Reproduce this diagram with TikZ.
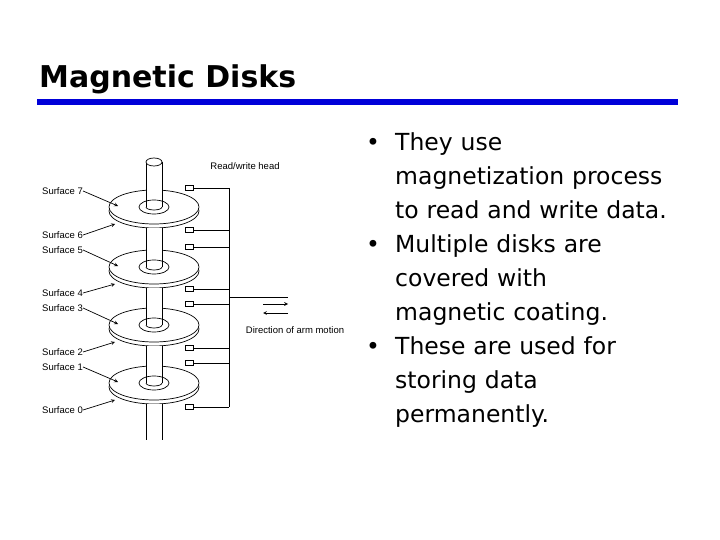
\documentclass[tikz,border=0pt]{standalone}
\usepackage{fontspec}
\setmainfont{DejaVu Sans}
\newfontfamily\figfont{Liberation Sans}
\usetikzlibrary{positioning, arrows}
\begin{document}
\begin{tikzpicture}[x=1pt, y=-1pt,
		disk/.style = {draw, fill=white, line width=0.7pt},
		head/.style = {rectangle, draw, fill=white, inner sep=0pt, minimum width=8pt, minimum height=5pt, line width=0.6pt},
		surflabel/.style = {font=\figfont\fontsize{9.5}{9.5}\selectfont, inner sep=0pt, anchor=west},
		line/.style = {draw, line width=0.7pt},
		bullettext/.style = {font=\fontsize{23.5}{34}\selectfont, text width=330pt, align=left, anchor=north west, inner sep=0pt},
	]
	\useasboundingbox (0,0) rectangle (720,540);

	% Title
	\node [font=\bfseries\fontsize{30}{30}\selectfont, anchor=base west, inner sep=0pt] (title) at (39,88) {Magnetic Disks};
	\fill [blue!85!black] (37,99) rectangle (678,105);

	% Spindle
	\draw [line, fill=white] (146,162) -- (146,440);
	\draw [line] (162,162) -- (162,440);
	\draw [line, fill=white] (154,162) ellipse (8 and 4);

	% Disks
	\foreach \y in {207,267,325,383} {
		\draw [disk] (154,\y+4) ellipse (45pt and 17pt);
		\draw [disk] (154,\y) ellipse (45pt and 17pt);
		\fill [white] (146.4,\y-20) rectangle (161.6,\y-1);
		\draw [line] (146,\y-20) -- (146,\y); \draw [line] (162,\y-20) -- (162,\y);
		\draw [line] (154,\y) ellipse (15pt and 7pt);
		\draw [line] (146,\y) arc (180:360:8pt and 3pt);
	}
	% spindle segments between disks
	\foreach \a/\b in {228/250,288/308,346/366,404/440} {
		\fill [white] (146.4,\a) rectangle (161.6,\b);
		\draw [line] (146,\a) -- (146,\b); \draw [line] (162,\a) -- (162,\b);
	}

	% Heads and arm
	\coordinate (bartop) at (229,188);
	\coordinate (barbot) at (229,407);
	\draw [line] (bartop) -- (barbot);
	\foreach \n/\y in {7/188,6/230,5/247,4/289,3/304,2/348,1/363,0/407} {
		\node [head] (h\n) at (189,\y) {};
		\draw [line] (h\n.east) -- (229,\y);
	}
	\coordinate (armjoin) at (229,297);
	\coordinate (armend) at (288,297);
	\draw [line] (armjoin) -- (armend);
	\draw [line, -stealth] (263,304) -- (288,304);
	\draw [line, -stealth] (288,313) -- (263,313);
	\node [surflabel, anchor=center] (motion) at (295,330) {Direction of arm motion};
	\node [surflabel, anchor=center] (rwhead) at (245,166) {Read/write head};

	% Surface labels
	\foreach \n/\y/\tx/\ty in {7/191/118/206,6/235/115/224,5/250/118/266,4/293/115/284,3/308/118/324,2/352/115/342,1/367/118/382,0/410/115/400} {
		\node [surflabel] (s\n) at (42,\y) {Surface \n};
		\draw [line, -stealth] (s\n.east) -- (\tx,\ty);
	}

	% Bullets
	\node [bullettext] (points) at (366,132) {%
		\makebox[29pt][l]{\textbullet}They use\\
		\hspace*{29pt}magnetization process\\
		\hspace*{29pt}to read and write data.\\
		\makebox[29pt][l]{\textbullet}Multiple disks are\\
		\hspace*{29pt}covered with\\
		\hspace*{29pt}magnetic coating.\\
		\makebox[29pt][l]{\textbullet}These are used for\\
		\hspace*{29pt}storing data\\
		\hspace*{29pt}permanently.};
\end{tikzpicture}
\end{document}
